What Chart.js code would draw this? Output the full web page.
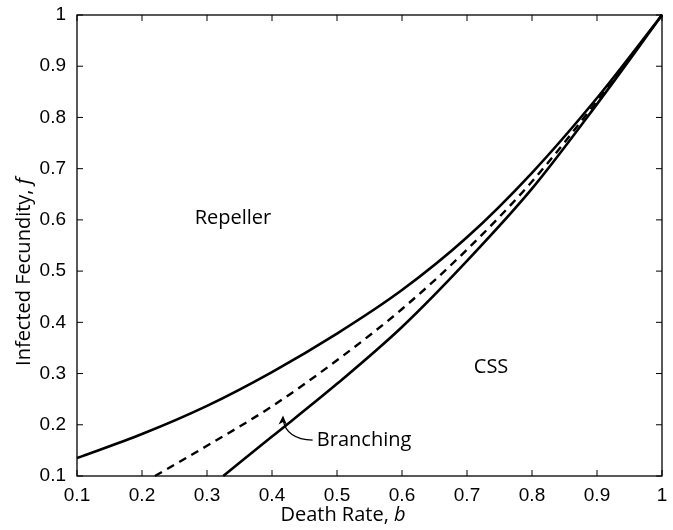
<!DOCTYPE html>
<html lang="en">
<head>
  <meta charset="UTF-8" />
  <title>Death rate vs infected fecundity</title>
  <script src="https://cdn.jsdelivr.net/npm/chart.js"></script>
  <style>
    html, body { margin: 0; padding: 0; background: #fff; }
    #wrap { width: 673px; height: 530px; }
  </style>
</head>
<body>
  <div id="wrap"><canvas id="chart" width="673" height="530"></canvas></div>

  <script>
    // values
    const xTicks = [0.1, 0.2, 0.3, 0.4, 0.5, 0.6, 0.7, 0.8, 0.9, 1];
    const yTicks = [0.1, 0.2, 0.3, 0.4, 0.5, 0.6, 0.7, 0.8, 0.9, 1];

    // upper solid curve (repeller boundary)
    const bUpper = [0.1, 0.2, 0.3, 0.4, 0.5, 0.6, 0.7, 0.8, 0.9, 1];
    const fUpper = [0.135, 0.182, 0.237, 0.303, 0.378, 0.463, 0.566, 0.692, 0.838, 1];

    // dashed middle curve
    const bDashed = [0.22, 0.3, 0.4, 0.5, 0.6, 0.7, 0.8, 0.9, 1];
    const fDashed = [0.1, 0.159, 0.236, 0.326, 0.426, 0.542, 0.675, 0.832, 1];

    // lower solid curve (CSS boundary)
    const bLower = [0.325, 0.4, 0.5, 0.6, 0.7, 0.8, 0.9, 1];
    const fLower = [0.1, 0.177, 0.28, 0.391, 0.52, 0.661, 0.826, 1];

    const regionLabels = [
      { text: "Repeller", x: 0.34, y: 0.604 },
      { text: "CSS", x: 0.737, y: 0.313 }
    ];
    const branchLabel = { text: "Branching", x: 0.469, y: 0.17 };
    const branchArrow = { from: [0.4625, 0.170], ctrl: [0.422, 0.172], to: [0.417, 0.218] };

    const toPts = (xs, ys) => xs.map((x, i) => ({ x: x, y: ys[i] }));

    const labelFont = '20px "Open Sans", "Noto Sans", sans-serif';
    const labelItalic = 'italic 20px "Open Sans", "Noto Sans", sans-serif';

    // frame, inside ticks, axis titles and annotations
    const decorations = {
      id: "decorations",
      afterDraw(chart) {
        const { ctx, chartArea: a, scales: { x, y } } = chart;
        ctx.save();
        ctx.strokeStyle = "#000";
        ctx.lineWidth = 1.3;
        ctx.strokeRect(a.left, a.top, a.right - a.left, a.bottom - a.top);

        ctx.lineWidth = 1;
        ctx.beginPath();
        xTicks.forEach(v => {
          const px = x.getPixelForValue(v);
          ctx.moveTo(px, a.bottom); ctx.lineTo(px, a.bottom - 6);
          ctx.moveTo(px, a.top); ctx.lineTo(px, a.top + 6);
        });
        yTicks.forEach(v => {
          const py = y.getPixelForValue(v);
          ctx.moveTo(a.left, py); ctx.lineTo(a.left + 6, py);
          ctx.moveTo(a.right, py); ctx.lineTo(a.right - 6, py);
        });
        ctx.stroke();

        // region labels
        ctx.fillStyle = "#000";
        ctx.font = labelFont;
        ctx.textBaseline = "middle";
        ctx.textAlign = "center";
        regionLabels.forEach(l => {
          ctx.fillText(l.text, x.getPixelForValue(l.x), y.getPixelForValue(l.y));
        });
        ctx.textAlign = "left";
        ctx.fillText(branchLabel.text, x.getPixelForValue(branchLabel.x), y.getPixelForValue(branchLabel.y));

        // curved arrow to the branching line
        const p = pt => [x.getPixelForValue(pt[0]), y.getPixelForValue(pt[1])];
        const [fx, fy] = p(branchArrow.from);
        const [cx, cy] = p(branchArrow.ctrl);
        const [tx, ty] = p(branchArrow.to);
        ctx.lineWidth = 1.2;
        ctx.beginPath();
        ctx.moveTo(fx, fy);
        ctx.quadraticCurveTo(cx, cy, tx, ty + 4);
        ctx.stroke();
        ctx.beginPath();
        ctx.moveTo(tx, ty);
        ctx.lineTo(tx - 4.5, ty + 9);
        ctx.lineTo(tx, ty + 6.5);
        ctx.lineTo(tx + 4, ty + 9.5);
        ctx.closePath();
        ctx.fill();

        // axis titles with italic variable names
        const drawMixed = (parts, cxPos, cyPos) => {
          let w = 0;
          parts.forEach(pr => { ctx.font = pr[1]; w += ctx.measureText(pr[0]).width; });
          let cur = cxPos - w / 2;
          parts.forEach(pr => {
            ctx.font = pr[1];
            ctx.fillText(pr[0], cur, cyPos);
            cur += ctx.measureText(pr[0]).width;
          });
        };
        ctx.textAlign = "left";
        ctx.textBaseline = "middle";
        drawMixed([["Death Rate, ", labelFont], ["b", labelItalic]], 343, 515);

        ctx.save();
        ctx.translate(24, 272);
        ctx.rotate(-Math.PI / 2);
        drawMixed([["Infected Fecundity, ", labelFont], ["f", labelItalic]], 0, 0);
        ctx.restore();

        ctx.restore();
      }
    };

    const tickFont = { family: '"Liberation Sans", Arial, sans-serif', size: 19 };

    new Chart(document.getElementById("chart"), {
      type: "line",
      data: {
        datasets: [
          { data: toPts(bUpper, fUpper), borderColor: "#000", borderWidth: 2.6, pointRadius: 0, cubicInterpolationMode: "monotone", fill: false },
          { data: toPts(bDashed, fDashed), borderColor: "#000", borderWidth: 2.4, borderDash: [8, 6], pointRadius: 0, cubicInterpolationMode: "monotone", fill: false },
          { data: toPts(bLower, fLower), borderColor: "#000", borderWidth: 2.6, pointRadius: 0, cubicInterpolationMode: "monotone", fill: false }
        ]
      },
      options: {
        responsive: false,
        animation: false,
        clip: 2,
        layout: { padding: { top: 15, right: 11, left: 0, bottom: 0 } },
        plugins: { legend: { display: false }, tooltip: { enabled: false } },
        scales: {
          x: {
            type: "linear",
            min: 0.1, max: 1,
            afterBuildTicks: s => { s.ticks = xTicks.map(v => ({ value: v })); },
            afterFit: s => { s.height = 54; },
            grid: { display: false },
            border: { display: false },
            ticks: { color: "#000", font: tickFont, padding: 0, maxRotation: 0, autoSkip: false, callback: v => String(+v.toFixed(1)) }
          },
          y: {
            type: "linear",
            min: 0.1, max: 1,
            afterBuildTicks: s => { s.ticks = yTicks.map(v => ({ value: v })); },
            afterFit: s => { s.width = 77; },
            grid: { display: false },
            border: { display: false },
            ticks: { color: "#000", font: tickFont, padding: 3, autoSkip: false, callback: v => String(+v.toFixed(1)) }
          }
        }
      },
      plugins: [decorations]
    });
  </script>
</body>
</html>
